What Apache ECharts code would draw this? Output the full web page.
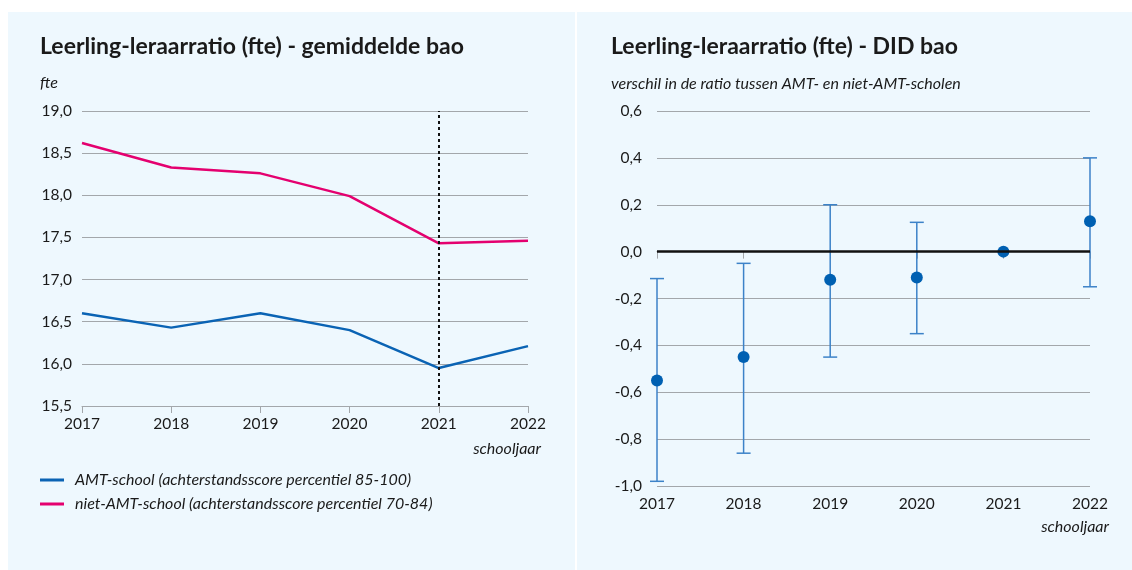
<!DOCTYPE html>
<html>
<head>
<meta charset="utf-8">
<script src="https://cdn.jsdelivr.net/npm/echarts@6/dist/echarts.min.js"></script>
<style>
  html, body { margin: 0; padding: 0; background: #fff; }
  #chart { width: 1132px; height: 570px; }
</style>
</head>
<body>
<div id="chart"></div>
<script>
// schooljaren
const years = ['2017', '2018', '2019', '2020', '2021', '2022']

// links: gemiddelde leerling-leraarratio
const amt = [16.6, 16.43, 16.6, 16.4, 15.95, 16.21]
const nietAmt = [18.62, 18.33, 18.26, 17.99, 17.43, 17.46]

// rechts: DID schatting met betrouwbaarheidsinterval
const did = [-0.55, -0.45, -0.12, -0.11, 0, 0.13]
const didLow = [-0.98, -0.86, -0.45, -0.35, null, -0.15]
const didHigh = [-0.115, -0.05, 0.2, 0.125, null, 0.4]

const BG = '#eef8fe'
const TXT = '#1a1a1a'
const GRID = '#a3a7ab'
const BLUE = '#0a63b4'
const PINK = '#e4006f'
const FONT = 'Lato'

const comma = (v) => v.toFixed(1).replace('.', ',')

const errData = years
  .map((y, i) => [i, didLow[i], didHigh[i]])
  .filter((d) => d[1] !== null)

const xAxisBase = {
  type: 'category',
  data: years,
  boundaryGap: false,
  axisLine: { lineStyle: { color: GRID, width: 1 } },
  axisTick: { show: true, length: 7, lineStyle: { color: GRID } },
  axisLabel: { color: TXT, fontSize: 15.5, fontFamily: FONT, margin: 10 },
  splitLine: { show: false }
}

const yAxisBase = {
  type: 'value',
  axisLine: { show: false },
  axisTick: { show: false },
  splitLine: { lineStyle: { color: GRID, width: 1 } },
  axisLabel: { color: TXT, fontSize: 15.5, fontFamily: FONT, formatter: comma }
}

const italic = { fontFamily: FONT, fontSize: 16, fontStyle: 'italic', fontWeight: 'normal', color: TXT }
const bold = { fontFamily: FONT, fontSize: 23, fontWeight: 'bold', color: TXT }

const chart = echarts.init(document.getElementById('chart'), null, { renderer: 'canvas' })

const option = {
  animation: false,
  backgroundColor: '#fff',
  graphic: [
    { type: 'rect', z: -10, shape: { x: 8, y: 12, width: 567, height: 558 }, style: { fill: BG } },
    { type: 'rect', z: -10, shape: { x: 577, y: 12, width: 555, height: 558 }, style: { fill: BG } }
  ],
  title: [
    { text: 'Leerling-leraarratio (fte) - gemiddelde bao', left: 40, top: 35, padding: 0, textStyle: bold },
    { text: 'fte', left: 40, top: 75, padding: 0, textStyle: italic },
    { text: 'schooljaar', right: 1132 - 541, top: 441, padding: 0, textStyle: italic },
    { text: 'Leerling-leraarratio (fte) - DID bao', left: 611, top: 35, padding: 0, textStyle: bold },
    { text: 'verschil in de ratio tussen AMT- en niet-AMT-scholen', left: 611, top: 76, padding: 0, textStyle: italic },
    { text: 'schooljaar', right: 1132 - 1109, top: 519, padding: 0, textStyle: italic }
  ],
  legend: {
    data: ['AMT-school (achterstandsscore percentiel 85-100)', 'niet-AMT-school (achterstandsscore percentiel 70-84)'],
    orient: 'vertical',
    left: 40, top: 472, padding: 0,
    icon: 'rect', itemWidth: 24, itemHeight: 3, itemGap: 8,
    textStyle: { ...italic, padding: [0, 0, 0, 6] },
    selectedMode: false
  },
  grid: [
    { left: 82, right: 1132 - 528, top: 111, bottom: 570 - 406 },
    { left: 657, right: 1132 - 1090, top: 111, bottom: 570 - 486 }
  ],
  xAxis: [
    { ...xAxisBase, gridIndex: 0 },
    { ...xAxisBase, gridIndex: 1 }
  ],
  yAxis: [
    { ...yAxisBase, gridIndex: 0, min: 15.5, max: 19, interval: 0.5, axisLabel: { ...yAxisBase.axisLabel, margin: 10 } },
    { ...yAxisBase, gridIndex: 1, min: -1, max: 0.6, interval: 0.2, axisLabel: { ...yAxisBase.axisLabel, margin: 15 } }
  ],
  series: [
    {
      name: 'AMT-school (achterstandsscore percentiel 85-100)',
      type: 'line',
      xAxisIndex: 0, yAxisIndex: 0,
      data: amt,
      symbol: 'none',
      lineStyle: { color: BLUE, width: 2.5 },
      itemStyle: { color: BLUE },
      z: 3
    },
    {
      name: 'niet-AMT-school (achterstandsscore percentiel 70-84)',
      type: 'line',
      xAxisIndex: 0, yAxisIndex: 0,
      data: nietAmt,
      symbol: 'none',
      lineStyle: { color: PINK, width: 2.5 },
      itemStyle: { color: PINK },
      z: 3,
      markLine: {
        silent: true,
        symbol: 'none',
        label: { show: false },
        lineStyle: { color: '#111', type: [3, 3], width: 2 },
        data: [{ xAxis: '2021' }]
      }
    },
    {
      name: 'interval',
      type: 'custom',
      xAxisIndex: 1, yAxisIndex: 1,
      data: errData,
      encode: { x: 0, y: [1, 2] },
      renderItem: (params, api) => {
        const top = api.coord([api.value(0), api.value(2)])
        const bot = api.coord([api.value(0), api.value(1)])
        const half = 7
        const style = { stroke: '#3c82c8', lineWidth: 1.5 }
        return {
          type: 'group',
          children: [
            { type: 'line', shape: { x1: top[0], y1: top[1], x2: bot[0], y2: bot[1] }, style },
            { type: 'line', shape: { x1: top[0] - half, y1: top[1], x2: top[0] + half, y2: top[1] }, style },
            { type: 'line', shape: { x1: bot[0] - half, y1: bot[1], x2: bot[0] + half, y2: bot[1] }, style }
          ]
        }
      },
      z: 2,
      markLine: {
        silent: true,
        symbol: 'none',
        label: { show: false },
        lineStyle: { color: '#111', type: 'solid', width: 2.5 },
        data: [{ yAxis: 0 }]
      }
    },
    {
      name: 'DID',
      type: 'scatter',
      xAxisIndex: 1, yAxisIndex: 1,
      data: did,
      symbolSize: 12,
      itemStyle: { color: '#0060b2', opacity: 1 },
      z: 4
    }
  ]
}

chart.setOption(option)
</script>
</body>
</html>
